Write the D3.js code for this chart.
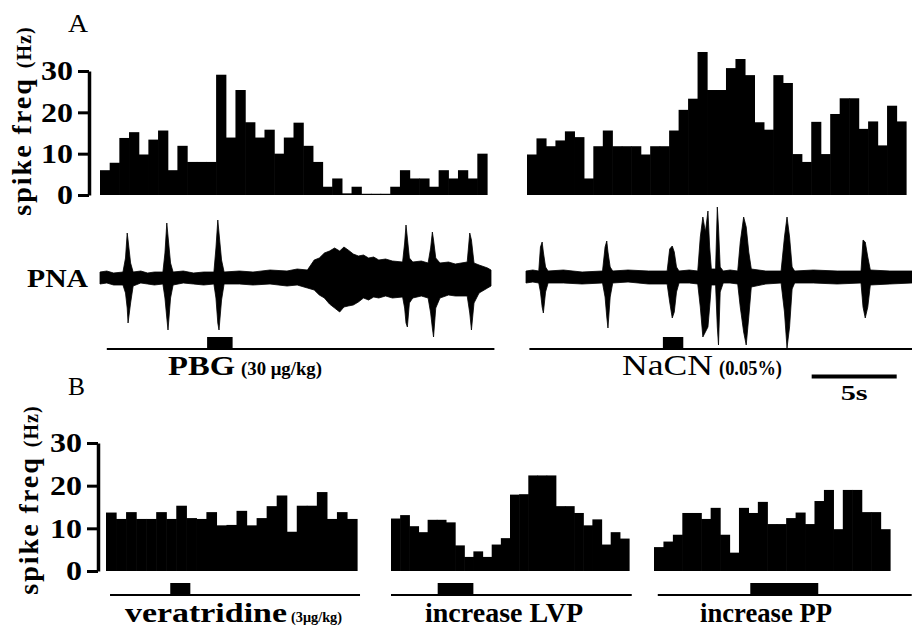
<!DOCTYPE html>
<html>
<head>
<title>Spike frequency and PNA</title>
<script src="https://cdnjs.cloudflare.com/ajax/libs/d3/7.8.5/d3.min.js"></script>
<style>
  body { margin: 0; background: #fff; }
  svg text { font-family: "Liberation Serif", "Times New Roman", Times, serif; fill: #000; }
</style>
</head>
<body>
<script>
// spike frequency per bin (Hz), panel A
var freqPBG = [6, 7.8, 13.8, 15.2, 9.8, 13.4, 15.6, 6, 11.9, 8, 8, 8, 29.1, 13.9, 25.4, 17.6, 13.9, 15.8, 10, 13.9,
               17.5, 11.9, 8, 2, 4, 0.4, 2, 0.3, 0.3, 0.3, 2, 6, 4, 4, 2, 6, 4, 6, 4, 10];
var freqNaCN = [9.8, 13.7, 11.8, 13.2, 15.4, 14, 4, 11.8, 15.6, 11.8, 11.8, 11.8, 9.8, 11.8, 11.8, 15.6, 20.6, 23.3, 34.6, 25.4,
                25.4, 30.7, 32.9, 29, 17.6, 15.8, 29, 27.1, 9.9, 8, 17.7, 9.9, 19.6, 23.4, 23.4, 16, 17.8, 12, 21.6, 17.8];

// panel B
var freqVeratridine = [13.7, 12.2, 13.8, 12.2, 12.2, 13.8, 12.2, 15.3, 12.4, 12.2, 13.8, 10.7, 10.8, 14.1, 10.7, 12.4, 15.2, 17.7, 9.2, 15.3,
                       15.3, 18.5, 12.2, 13.8, 12.2];
var freqLVP = [12.3, 13.1, 10.5, 9.1, 12, 12, 11.4, 6, 3.3, 4.6, 3.3, 6.2, 7.7, 17.9, 18, 22.4, 22.4, 22.4, 15.2, 15.2,
               13.6, 10.7, 12.1, 6.2, 9.1, 7.6];
var freqPP = [5.6, 6.9, 8.5, 13.6, 13.6, 12.2, 14.8, 8.5, 4.3, 14.8, 13.6, 16.2, 11, 11, 12.4, 13.7, 11, 16.4, 19, 9.8,
              19, 19, 13.8, 13.8, 9.8];

var freqTicks = [0, 10, 20, 30];

// PNA envelope: [time s, upper, lower]
var pnaPBG = [
  [0, 6, -6], [0.4, 7, -5], [0.8, 5, -7], [1.35, 6, -7], [1.5, 20, -15], [1.6, 45, -30], [1.65, 38, -45], [1.8, 15, -25], [1.95, 6, -8],
  [2.4, 7, -5], [2.8, 5, -6], [3.2, 6, -7], [3.7, 6, -6], [3.82, 25, -20], [3.93, 55, -40], [4.0, 42, -52], [4.15, 15, -20], [4.3, 6, -7],
  [4.9, 7, -5], [5.5, 5, -6], [6.1, 6, -7], [6.7, 6, -6], [6.82, 30, -20], [6.93, 58, -45], [7.0, 45, -52], [7.15, 18, -22], [7.3, 6, -6],
  [8.2, 7, -6], [9.0, 6, -7], [10.0, 8, -6], [11.0, 7, -8], [11.6, 9, -7], [12.2, 8, -10], [12.6, 18, -12], [12.9, 20, -17],
  [13.2, 25, -20], [13.5, 27, -26], [13.8, 30, -30], [14.1, 27, -34], [14.35, 31, -29],
  [14.6, 28, -28], [14.9, 24, -27], [15.2, 22, -24], [15.5, 23, -20], [15.8, 20, -22], [16.1, 21, -19], [16.4, 18, -20],
  [16.8, 19, -18], [17.2, 17, -20], [17.8, 16, -19],
  [17.92, 35, -30], [18.0, 53, -45], [18.08, 40, -49], [18.2, 20, -25], [18.4, 16, -20], [18.9, 17, -18],
  [19.3, 15, -20], [19.45, 30, -35], [19.55, 46, -50], [19.62, 38, -59], [19.75, 20, -30], [20.0, 15, -20],
  [20.5, 16, -17], [20.9, 14, -18], [21.6, 16, -18], [21.75, 45, -35], [21.85, 38, -52], [22.0, 15, -25], [22.3, 13, -15],
  [22.8, 10, -10], [23.0, 8, -8]
];
var pnaNaCN = [
  [0, 6, -6], [0.4, 7, -5], [0.75, 6, -6], [0.85, 30, -15], [0.95, 35, -30], [1.02, 25, -36], [1.15, 10, -15], [1.3, 6, -6],
  [2.2, 7, -6], [3.3, 5, -7], [4.5, 6, -6], [4.65, 30, -20], [4.75, 36, -40], [4.82, 25, -51], [4.95, 10, -20], [5.1, 6, -6],
  [6.0, 7, -5], [7.2, 6, -7], [8.3, 6, -7], [8.45, 28, -25], [8.6, 31, -41], [8.72, 25, -35], [8.85, 10, -15], [9.0, 6, -6],
  [9.6, 7, -6], [10.1, 6, -7], [10.25, 40, -30], [10.4, 60, -60], [10.55, 45, -55], [10.7, 66, -50], [10.8, 30, -30], [10.9, 8, -8],
  [11.15, 8, -8], [11.25, 70, -50], [11.32, 50, -68], [11.42, 10, -15], [11.6, 6, -6], [12.0, 7, -6],
  [12.45, 6, -7], [12.6, 35, -30], [12.8, 60, -55], [12.95, 50, -68], [13.1, 25, -40], [13.25, 8, -10],
  [14.1, 6, -7], [15.0, 6, -6], [15.2, 40, -35], [15.35, 60, -71], [15.5, 40, -50], [15.65, 10, -12], [15.8, 6, -6],
  [16.9, 7, -6], [18.3, 6, -7], [19.7, 6, -6], [19.82, 37, -30], [19.95, 35, -41], [20.1, 20, -30], [20.25, 7, -8],
  [21.4, 6, -7], [22.7, 6, -6]
];

// stimulus bars: PNA panels in seconds, panel B in bins
var stimPBG = [6.3, 7.8];
var stimNaCN = [8.05, 9.25];
var stimVeratridine = [6.4, 8.4];
var stimLVP = [5.1, 9.0];
var stimPP = [10.2, 17.4];
var scaleBarSec = 5;

var svg = d3.select("body").append("svg")
  .attr("width", 912)
  .attr("height", 629)
  .style("font-family", "'Liberation Serif', 'Times New Roman', Times, serif");

var yA = d3.scaleLinear().domain([0, 30]).range([195, 71]);
var yB = d3.scaleLinear().domain([0, 30]).range([571, 443]);

function histogram(values, x0, x1, y) {
  var x = d3.scaleLinear().domain([0, values.length]).range([x0, x1]);
  svg.append("g").selectAll("rect")
    .data(values)
    .enter()
      .append("rect")
      .attr("x", function(d, i) { return x(i); })
      .attr("width", x(1) - x(0) + 0.6)
      .attr("y", function(d) { return y(d); })
      .attr("height", function(d) { return y(0) - y(d); })
      .attr("fill", "#000");
  return x;
}

function marker(x, ext, stim, yLine) {
  svg.append("line")
    .attr("x1", x(ext[0])).attr("x2", x(ext[1]))
    .attr("y1", yLine).attr("y2", yLine)
    .attr("stroke", "#000").attr("stroke-width", 2);
  svg.append("rect")
    .attr("x", x(stim[0]))
    .attr("width", x(stim[1]) - x(stim[0]))
    .attr("y", yLine - 12)
    .attr("height", 12)
    .attr("fill", "#000");
}

function label(x, y, str, size, weight, width, anchor) {
  return svg.append("text")
    .attr("x", x).attr("y", y)
    .attr("font-size", size)
    .attr("font-weight", weight)
    .attr("text-anchor", anchor || "start")
    .attr("textLength", width)
    .attr("lengthAdjust", "spacingAndGlyphs")
    .text(str);
}

function freqAxis(y, xPos) {
  var axis = d3.axisLeft(y).tickValues(freqTicks).tickSize(11).tickSizeOuter(0).tickPadding(5);
  var g = svg.append("g")
    .attr("transform", "translate(" + xPos + ",0)")
    .call(axis)
    .attr("font-family", null);
  g.select(".domain").attr("stroke-width", 3.5);
  g.selectAll(".tick line").attr("stroke-width", 3);
  g.selectAll(".tick text")
    .attr("font-size", 28)
    .attr("font-weight", "bold")
    .attr("textLength", function(d) { return d >= 10 ? 32 : 16; })
    .attr("lengthAdjust", "spacingAndGlyphs");
}

function yLabel(bx, cy) {
  var t = svg.append("text")
    .attr("transform", "translate(" + bx + "," + cy + ") rotate(-90)")
    .attr("text-anchor", "middle")
    .attr("font-weight", "bold");
  t.append("tspan").attr("font-size", 28).attr("letter-spacing", 2).text("spike freq ");
  t.append("tspan").attr("font-size", 20).attr("letter-spacing", 1).text("(Hz)");
}

function pna(data, x, y) {
  var area = d3.area()
    .x(function(d) { return x(d[0]); })
    .y0(function(d) { return y(d[2]); })
    .y1(function(d) { return y(d[1]); });
  svg.append("path").datum(data).attr("d", area)
    .attr("fill", "#000").attr("stroke", "#000").attr("stroke-width", 0.8);
}

// ---- panel A ----
label(68, 32, "A", 25, "normal", 20);
yLabel(31, 121);
freqAxis(yA, 89);
histogram(freqPBG, 100, 487, yA);
histogram(freqNaCN, 527, 906, yA);

var tPBG = d3.scaleLinear().domain([0, 23]).range([100, 491]);
var tNaCN = d3.scaleLinear().domain([0, 22.7]).range([526, 912]);
var ampPBG = d3.scaleLinear().domain([-80, 80]).range([358, 198]);
var ampNaCN = d3.scaleLinear().domain([-80, 80]).range([357, 197]);

label(27, 287, "PNA", 26, "bold", 61);
pna(pnaPBG, tPBG, ampPBG);
pna(pnaNaCN, tNaCN, ampNaCN);

marker(tPBG, [0.4, 23.2], stimPBG, 349);
marker(tNaCN, [0.2, 22.7], stimNaCN, 349);

label(168, 375, "PBG", 27, "bold", 67);
label(241, 375, "(30 \u03bcg/kg)", 18, "bold", 81);
label(622, 375, "NaCN", 29, "normal", 91);
label(719, 375, "(0.05%)", 20, "bold", 63);

// 5 s scale bar
var sb0 = 16.8;
svg.append("line")
  .attr("x1", tNaCN(sb0)).attr("x2", tNaCN(sb0 + scaleBarSec))
  .attr("y1", 376.5).attr("y2", 376.5)
  .attr("stroke", "#000").attr("stroke-width", 4);
label(tNaCN(sb0 + scaleBarSec / 2), 400, "5s", 22, "bold", 27, "middle");

// ---- panel B ----
label(68, 395, "B", 25, "normal", 17);
yLabel(38, 500);
freqAxis(yB, 98);
var xVer = histogram(freqVeratridine, 106, 357, yB);
var xLVP = histogram(freqLVP, 391, 629, yB);
var xPP = histogram(freqPP, 654, 890, yB);

marker(xVer, [0.4, 25.3], stimVeratridine, 595);
marker(xLVP, [0, 26.3], stimLVP, 595);
marker(xPP, [0.4, 27.3], stimPP, 595);

label(125, 622, "veratridine", 28, "bold", 162);
label(291, 622, "(3\u03bcg/kg)", 15, "bold", 51);
label(425, 622, "increase LVP", 27, "bold", 158);
label(700, 622, "increase PP", 27, "bold", 132);
</script>
</body>
</html>
